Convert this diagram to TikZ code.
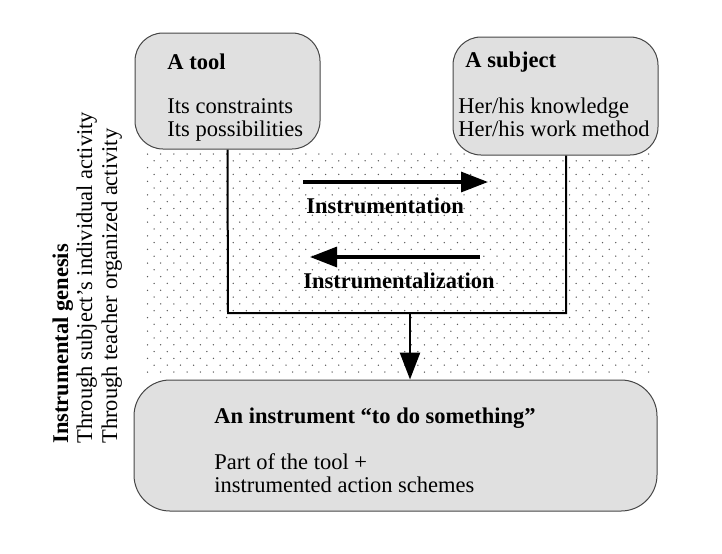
\documentclass[tikz,border=0pt]{standalone}
\usepackage{fontspec}
\setmainfont{Liberation Serif}
\usetikzlibrary{arrows.meta}
\definecolor{boxgray}{RGB}{224,224,224}
\definecolor{edgegray}{RGB}{70,70,70}
\definecolor{dotc}{RGB}{90,90,90}
\begin{document}
\begin{tikzpicture}[x=0.5pt,y=-0.5pt,
  box/.style={draw=edgegray, line width=0.5pt, fill=boxgray, inner sep=0pt},
  txt/.style={anchor=base west, inner sep=0pt, font=\fontsize{11.25}{11.5}\selectfont},
  btxt/.style={anchor=base west, inner sep=0pt, font=\fontsize{11.25}{11.5}\selectfont\bfseries},
  bigarrow/.style={line width=1.6pt, -{Triangle[length=13.5pt,width=10pt]}},
  bracketline/.style={line width=1pt}]
\useasboundingbox (0,0) rectangle (722,553);
% dotted background
\foreach \k in {0,2,...,32}{\foreach \n in {0,...,38}{\fill[dotc] (147.5+\n*13.19,154+\k*6.8125) circle (0.75);}}
\foreach \k in {1,3,...,31}{\foreach \n in {0,...,37}{\fill[dotc] (154.1+\n*13.19,154+\k*6.8125) circle (0.75);}}
% boxes
\node[box, rounded corners=14pt, minimum width=92.5pt, minimum height=58pt] (tool) at (227.5,91) {};
\node[box, rounded corners=14pt, minimum width=102.5pt, minimum height=59pt] (subject) at (555.5,96) {};
\node[box, rounded corners=18pt, minimum width=261.5pt, minimum height=65.5pt] (inst) at (395.5,445.5) {};
% box texts
\node[btxt] (toolt) at (167,69) {A tool};
\node[txt] (tool1) at (167,113) {Its constraints};
\node[txt] (tool2) at (167,136) {Its possibilities};
\node[btxt] (subjt) at (465,67) {A subject};
\node[txt] (subj1) at (458,113) {Her/his knowledge};
\node[txt] (subj2) at (458,136) {Her/his work method};
\node[btxt] (instt) at (214,423) {An instrument “to do something”};
\node[txt] (inst1) at (214,469) {Part of the tool +};
\node[txt] (inst2) at (214,492) {instrumented action schemes};
% bracket
\coordinate (bl) at (228,313);
\coordinate (br) at (566,313);
\draw[bracketline] (tool.south) -- (bl) -- (br) -- (br |- subject.south);
% down arrow
\coordinate (dtop) at (410,313);
\draw[bigarrow, line width=1.3pt] (dtop) -- (dtop |- inst.north);
% horizontal arrows
\coordinate (a1s) at (303,182);
\coordinate (a1e) at (488,182);
\draw[bigarrow] (a1s) -- (a1e);
\coordinate (a2s) at (480,257);
\coordinate (a2e) at (310,257);
\draw[bigarrow] (a2s) -- (a2e);
\node[btxt] (l1) at (306,213) {Instrumentation};
\node[btxt] (l2) at (303,288) {Instrumentalization};
% left rotated texts
\node[btxt, rotate=90] (g1) at (68,444) {Instrumental genesis};
\node[txt, rotate=90] (g2) at (92,444) {Through subject's individual activity};
\node[txt, rotate=90] (g3) at (117,444) {Through teacher organized activity};
\end{tikzpicture}
\end{document}
